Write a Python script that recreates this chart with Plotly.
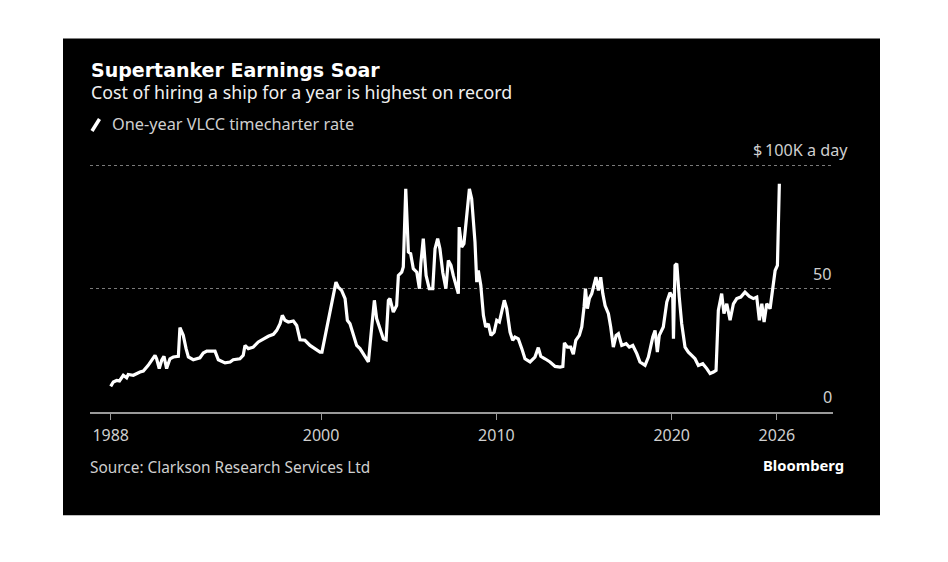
import plotly.graph_objects as go

# One-year VLCC timecharter rate, $K a day
years = [
    1988.0, 1988.15, 1988.34, 1988.5, 1988.72, 1988.91, 1989.0, 1989.29, 1989.67, 1989.86,
    1990.14, 1990.43, 1990.53, 1990.62, 1990.77, 1990.91, 1991.04, 1991.19, 1991.38, 1991.57,
    1991.86, 1991.95, 1992.14, 1992.3, 1992.43, 1992.71, 1993.09, 1993.28, 1993.48, 1993.95,
    1994.14, 1994.52, 1994.81, 1994.99, 1995.37, 1995.56, 1995.66, 1995.85, 1996.13, 1996.42,
    1996.7, 1996.99, 1997.28, 1997.47, 1997.66, 1997.79, 1997.94, 1998.13, 1998.42, 1998.61,
    1998.8, 1999.08, 1999.37, 1999.65, 1999.94, 2000.05, 2000.22, 2000.51, 2000.7, 2000.85,
    2000.98, 2001.17, 2001.37, 2001.5, 2001.65, 2001.84, 2002.03, 2002.22, 2002.41, 2002.7,
    2002.89, 2003.04, 2003.17, 2003.36, 2003.55, 2003.71, 2003.84, 2003.93, 2004.12, 2004.31,
    2004.41, 2004.6, 2004.69, 2004.83, 2004.98, 2005.11, 2005.26, 2005.46, 2005.61, 2005.69,
    2005.83, 2005.99, 2006.17, 2006.37, 2006.5, 2006.65, 2006.78, 2006.94, 2007.12, 2007.26,
    2007.41, 2007.54, 2007.73, 2007.83, 2007.88, 2008.02, 2008.15, 2008.31, 2008.46, 2008.59,
    2008.78, 2008.88, 2008.97, 2009.11, 2009.26, 2009.39, 2009.54, 2009.69, 2009.87, 2010.02,
    2010.17, 2010.45, 2010.59, 2010.78, 2010.93, 2011.06, 2011.25, 2011.45, 2011.63, 2011.92,
    2012.2, 2012.39, 2012.53, 2012.77, 2013.06, 2013.35, 2013.63, 2013.79, 2013.88, 2014.05,
    2014.24, 2014.39, 2014.53, 2014.73, 2014.87, 2015.0, 2015.08, 2015.19, 2015.3, 2015.44,
    2015.57, 2015.68, 2015.82, 2015.95, 2016.07, 2016.2, 2016.39, 2016.52, 2016.67, 2016.83,
    2016.96, 2017.15, 2017.4, 2017.58, 2017.78, 2018.01, 2018.19, 2018.48, 2018.67, 2018.92,
    2019.05, 2019.18, 2019.29, 2019.52, 2019.72, 2019.9, 2020.06, 2020.1, 2020.19, 2020.29,
    2020.43, 2020.57, 2020.76, 2020.95, 2021.14, 2021.33, 2021.52, 2021.77, 2022.0, 2022.19,
    2022.38, 2022.53, 2022.66, 2022.85, 2022.98, 2023.14, 2023.33, 2023.52, 2023.71, 2023.94,
    2024.18, 2024.43, 2024.66, 2024.85, 2025.0, 2025.14, 2025.27, 2025.42, 2025.61, 2025.77,
    2025.9, 2026.03, 2026.14,
]
rates = [
    10.4, 12.2, 12.8, 12.6, 14.9, 13.9, 15.2, 14.9, 16.2, 16.6,
    18.9, 21.6, 23.0, 21.6, 17.6, 21.0, 22.6, 17.6, 21.6, 22.3,
    22.6, 34.2, 31.1, 25.7, 22.3, 21.2, 22.0, 23.9, 24.7, 24.7,
    21.2, 19.9, 20.3, 21.2, 21.6, 23.0, 27.0, 25.7, 26.3, 28.4,
    29.7, 30.7, 31.5, 33.1, 35.8, 39.2, 37.2, 36.5, 36.9, 35.1,
    29.3, 29.1, 27.0, 25.7, 24.3, 24.3, 30.4, 41.2, 48.0, 52.7,
    50.7, 49.3, 46.0, 37.2, 35.8, 31.8, 27.0, 25.7, 23.7, 20.3,
    34.5, 45.3, 37.9, 33.8, 29.7, 29.3, 45.3, 46.0, 40.5, 43.2,
    55.4, 56.7, 58.8, 90.5, 64.9, 64.2, 58.1, 56.7, 50.0, 60.2,
    70.3, 55.4, 50.0, 50.0, 66.2, 70.3, 66.2, 56.7, 50.0, 61.5,
    59.5, 55.4, 50.0, 48.0, 75.0, 66.9, 68.3, 79.7, 90.5, 86.5,
    68.9, 52.7, 57.4, 51.4, 39.2, 34.5, 35.8, 31.1, 32.4, 37.2,
    36.5, 45.3, 41.9, 32.4, 29.1, 30.4, 29.7, 25.7, 21.6, 20.3,
    22.3, 26.1, 22.6, 21.6, 20.3, 18.5, 18.2, 18.5, 28.0, 26.3,
    26.3, 23.4, 29.1, 31.1, 34.5, 42.6, 50.0, 41.9, 46.0, 48.0,
    52.3, 54.7, 49.3, 54.7, 48.0, 43.2, 39.9, 34.5, 26.3, 31.1,
    31.8, 27.0, 27.7, 26.3, 27.0, 23.7, 20.3, 18.9, 22.3, 30.4,
    33.1, 24.3, 31.1, 34.5, 44.6, 48.4, 46.5, 29.7, 59.5, 60.2,
    46.6, 35.8, 26.3, 24.3, 23.0, 21.6, 18.9, 19.6, 17.6, 15.6,
    16.2, 16.9, 41.2, 48.0, 39.9, 43.9, 37.2, 43.9, 46.0, 46.6,
    48.6, 46.9, 46.0, 46.6, 37.2, 43.9, 36.5, 43.9, 41.9, 49.3,
    57.4, 59.5, 92.6,
]

x_tick_vals = [1988, 2000, 2010, 2020, 2026]
x_tick_text = ["1988", "2000", "2010", "2020", "2026"]
y_grid_vals = [50, 100]
y_label_vals = [0, 50, 100]
y_label_text = ["0", "50", "$\u2009100K a day"]

W, H = 948, 562
OFF = 8                      # page body margin of the html page
Y_TOP = 101                  # a little headroom so the 100 gridline is drawn
L, R, B = 90, 833, 411.7     # plot edges in page pixels
T = B - (B - 165) * Y_TOP / 100


def px(x):
    return (x - L) / (R - L)


def py(y):
    return (B - y) / (B - T)


BODY = "Noto Sans, Open Sans, DejaVu Sans, sans-serif"
GREY = "#cfcfcf"

fig = go.Figure()
fig.add_trace(go.Scatter(
    x=years, y=rates, mode="lines",
    line=dict(color="white", width=3.2),
    hoverinfo="x+y", showlegend=False,
))

fig.update_layout(
    width=W, height=H,
    margin=dict(l=L - OFF, r=W - R + OFF, t=T - OFF, b=H - B + OFF),
    paper_bgcolor="white",
    plot_bgcolor="rgba(0,0,0,0)",
    font=dict(family=BODY, color=GREY, size=14),
    xaxis=dict(
        range=[1986.82, 2029.2],
        tickvals=x_tick_vals, ticktext=x_tick_text,
        showgrid=False, zeroline=False,
        showline=True, linecolor="#9a9a9a", linewidth=2,
        ticks="outside", ticklen=6, tickwidth=1, tickcolor="#9a9a9a",
        tickfont=dict(size=16, color=GREY), ticklabelstandoff=2,
        fixedrange=True,
    ),
    yaxis=dict(
        range=[0, Y_TOP],
        tickvals=y_grid_vals, showticklabels=False,
        showgrid=True, gridcolor="#7a7a7a", gridwidth=1, griddash="dot",
        zeroline=False, showline=False, fixedrange=True,
    ),
    shapes=[
        # black card behind everything
        dict(type="rect", xref="paper", yref="paper", layer="below",
             x0=px(63), x1=px(880), y0=py(515), y1=py(38),
             fillcolor="black", line=dict(width=0)),
        # legend key slash
        dict(type="line", xref="paper", yref="paper",
             x0=px(92), y0=py(130.5), x1=px(99.5), y1=py(118.5),
             line=dict(color="white", width=3.5)),
    ],
)

annotations = [
    dict(text="<b>Supertanker Earnings Soar</b>", x=px(89), y=py(69),
         font=dict(family="DejaVu Sans", size=19, color="white")),
    dict(text="Cost of hiring a ship for a year is highest on record", x=px(89), y=py(91),
         font=dict(size=17.8, color="#f0f0f0")),
    dict(text="One-year VLCC timecharter rate", x=px(110), y=py(124),
         font=dict(size=16.3, color=GREY)),
    dict(text="Source: Clarkson Research Services Ltd", x=px(88), y=py(467),
         font=dict(size=15.4, color=GREY)),
    dict(text="<b>Bloomberg</b>", x=px(846), y=py(465), xanchor="right",
         font=dict(size=14.8, color="white")),
]
for v, t in zip(y_label_vals, y_label_text):
    right = 850 if v == 100 else 834
    annotations.append(dict(text=t, x=px(right), y=v, yref="y", xanchor="right",
                            yshift=15, font=dict(size=16.2, color=GREY)))

for a in annotations:
    a.setdefault("xref", "paper")
    a.setdefault("yref", "paper")
    a.setdefault("xanchor", "left")
    a.setdefault("yanchor", "middle")
    a["showarrow"] = False
fig.update_layout(annotations=annotations)

fig.write_html("out.html")
